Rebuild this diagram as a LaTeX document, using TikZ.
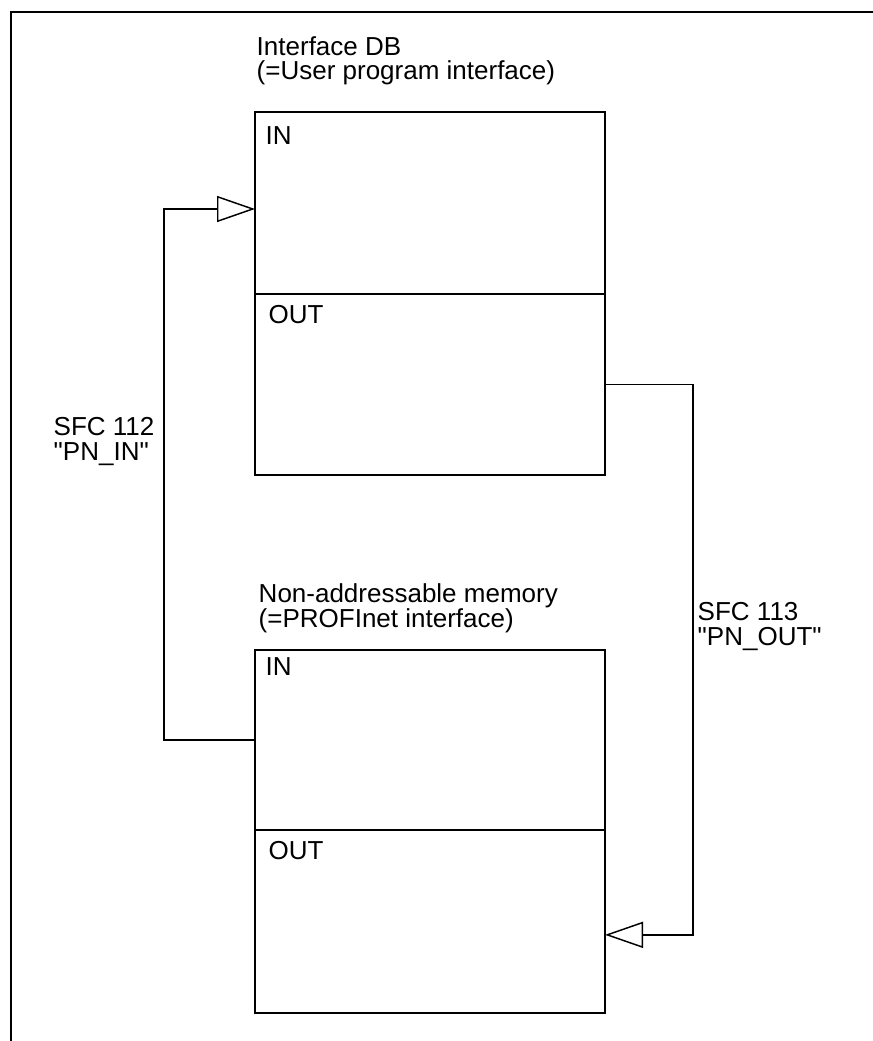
\documentclass[tikz,border=0pt]{standalone}
\usepackage{fontspec}
\setmainfont{Liberation Sans}
\usetikzlibrary{arrows.meta,positioning,calc}

\begin{document}
\begin{tikzpicture}[x=0.75pt,y=-0.75pt,line width=1.1pt,
 part/.style={draw,rectangle,minimum width=262.5pt,inner sep=0pt,outer sep=0pt,anchor=north west},
 lbl/.style={anchor=base west,inner sep=0pt,align=left,font=\fontsize{19.5pt}{18.5pt}\selectfont},
 flow/.style={-{Triangle[open,length=28.5pt,width=19.5pt]}}]
\useasboundingbox (0,0) rectangle (873,1041);
\draw[line width=1.5pt] (11,1041) -- (11,12) -- (873,12);
% interface DB
\node[part,minimum height=136.5pt] (dbin) at (255,112) {};
\node[part,minimum height=135.75pt] (dbout) at (255,294) {};
\node[lbl] (dbtitle) at (256,80) {Interface DB\\(=User program interface)};
\node[lbl] (dbinl) at (265,145) {IN};
\node[lbl] (dboutl) at (268,323) {OUT};
% PROFInet memory
\node[part,minimum height=135pt] (memin) at (255,650) {};
\node[part,minimum height=137.25pt] (memout) at (255,830) {};
\node[lbl] (memtitle) at (258,627) {Non-addressable memory\\(=PROFInet interface)};
\node[lbl] (meminl) at (265,675) {IN};
\node[lbl] (memoutl) at (268,859) {OUT};
% SFC calls
\node[lbl] (sfcin) at (53,460) {SFC 112\\\textquotedbl PN\_IN\textquotedbl};
\node[lbl] (sfcout) at (697,645) {SFC 113\\\textquotedbl PN\_OUT\textquotedbl};
\draw[flow] (memin.west) -- ++(-91,0) |- ([yshift=-4.5pt]dbin.west);
\draw[flow] (dbout.east) -- ++(88,0) |- ([yshift=-10pt]memout.east);
\end{tikzpicture}
\end{document}
